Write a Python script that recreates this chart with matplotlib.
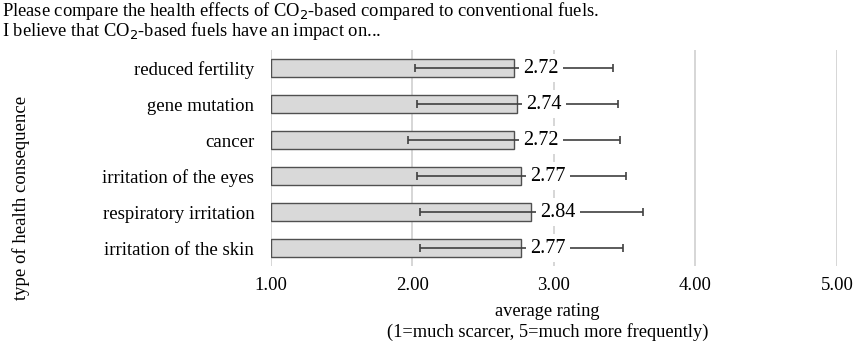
import numpy as np
import matplotlib.pyplot as plt

plt.rcParams['font.family'] = ['Liberation Serif', 'DejaVu Serif']

## data
categories = ['reduced fertility', 'gene mutation', 'cancer',
              'irritation of the eyes', 'respiratory irritation',
              'irritation of the skin']
means = [2.72, 2.74, 2.72, 2.77, 2.84, 2.77]
sds = [0.70, 0.71, 0.75, 0.74, 0.79, 0.72]
xticks = [1, 2, 3, 4, 5]

fig = plt.figure(figsize=(8.54, 3.47), dpi=100)
ax = fig.add_axes([0.3173, 0.2334, 0.6627, 0.6225])

ypos = np.arange(len(categories))
base = 1.0
ax.barh(ypos, np.array(means) - base, left=base, height=0.5,
        color='#d9d9d9', edgecolor='#505050', linewidth=1.0, zorder=2)
ax.errorbar(means, ypos, xerr=sds, fmt='none', ecolor='#404040',
            elinewidth=1.2, capsize=3, capthick=1.2, zorder=3)

for y, m in zip(ypos, means):
    ax.annotate('%.2f' % m, (m, y), xytext=(9, 0), textcoords='offset pixels',
                ha='left', va='center', fontsize=14.5, zorder=4,
                bbox=dict(boxstyle='square,pad=0.2', fc='white', ec='none'))

ax.set_xlim(1, 5)
ax.set_ylim(len(categories) - 0.5, -0.5)
ax.set_xticks(xticks)
ax.set_xticklabels(['%.2f' % t for t in xticks])
ax.set_yticks(ypos)
ax.set_yticklabels(categories)
ax.tick_params(axis='both', length=0, labelsize=13.5)
ax.tick_params(axis='y', pad=12)
ax.tick_params(axis='x', pad=8)
ax.grid(axis='x', color='#d0d0d0', linewidth=1.2, zorder=0)
for s in ax.spines.values():
    s.set_visible(False)

ax.set_xlabel('average rating\n(1=much scarcer, 5=much more frequently)',
              fontsize=13.2, linespacing=1.25)
ax.xaxis.set_label_coords(0.489, -0.17)
ax.xaxis.label.set_va('top')

fig.text(0.025, 1 - 198 / 347, 'type of health consequence', rotation=90,
         ha='center', va='center', fontsize=13.5)
fig.text(0.002, 1 - 11 / 347,
         'Please compare the health effects of CO$_2$-based compared to conventional fuels.',
         ha='left', va='center', fontsize=13.3)
fig.text(0.002, 1 - 31 / 347,
         'I believe that CO$_2$-based fuels have an impact on...',
         ha='left', va='center', fontsize=13.3)

fig.savefig('out.png', dpi=100)
